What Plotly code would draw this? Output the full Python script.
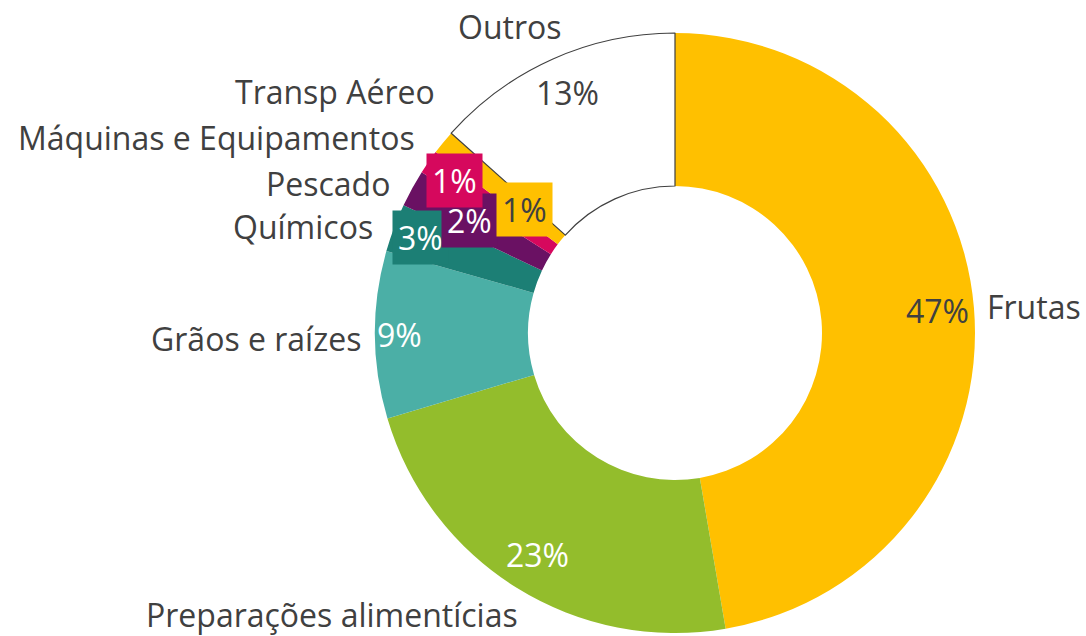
import math
import plotly.graph_objects as go

# ---- data ----
categories = ["Frutas", "Preparações alimentícias", "Grãos e raízes", "Químicos",
              "Pescado", "Máquinas e Equipamentos", "Transp Aéreo", "Outros"]
shares = [47.3, 23.1, 9.0, 2.6, 2.0, 1.3, 1.3, 13.4]

# ---- style ----
colors = ["#FFC000", "#93BD2C", "#4BAFA6", "#1C7F75", "#6A1163", "#D6085D", "#FFC000", "#FFFFFF"]
pct_font_colors = ["#404040", "#FFFFFF", "#FFFFFF", "#FFFFFF", "#FFFFFF", "#FFFFFF", "#404040", "#404040"]
pct_boxed = [False, False, False, True, True, True, True, False]
pct_radius = [0.877, 0.87, 0.917, 0.907, 0.78, 0.893, 0.65, 0.88]   # fraction of outer radius
name_polar = [(85.2, 1.037, "left"), (208.9, 1.07, "right"), (269.0, 1.04, "right"),
              (289.5, 1.06, "right"), (297.9, 1.067, "right"), (307.2, 1.08, "right"),
              (315.4, 1.13, "right"), (331.7, 1.16, "center")]
line_w = [0, 0, 0, 0, 0, 0, 0, 1.2]
line_c = ["#404040" if w else c for w, c in zip(line_w, colors)]

W, H = 1086, 636
CX, CY, R = 675, 333, 300
HOLE = 0.49
FONT = "Open Sans"
FS = 32
TXT = "#404040"


def to_paper(ang_deg, r_px):
    a = math.radians(ang_deg)
    return (CX + r_px * math.sin(a)) / W, 1 - (CY - r_px * math.cos(a)) / H


fig = go.Figure(go.Pie(
    labels=categories, values=shares, sort=False, direction="clockwise", rotation=0,
    hole=HOLE, textinfo="none", hoverinfo="label+percent",
    marker=dict(colors=colors, line=dict(color=line_c, width=line_w)),
    domain=dict(x=[(CX - R) / W, (CX + R) / W], y=[1 - (CY + R) / H, 1 - (CY - R) / H]),
    showlegend=False,
))

total = sum(shares)
cum = 0.0
annotations = []
for i, (cat, v) in enumerate(zip(categories, shares)):
    mid = (cum + v / 2) / total * 360
    cum += v
    x, y = to_paper(mid, pct_radius[i] * R)
    ann = dict(x=x, y=y, xref="paper", yref="paper", showarrow=False,
               text=f"{round(v / total * 100)}%",
               font=dict(family=FONT, size=FS, color=pct_font_colors[i]),
               xanchor="center", yanchor="middle")
    if pct_boxed[i]:
        ann.update(bgcolor=colors[i], borderpad=5)
    annotations.append(ann)
    ang, rr, anchor = name_polar[i]
    nx, ny = to_paper(ang, rr * R)
    annotations.append(dict(x=nx, y=ny, xref="paper", yref="paper", showarrow=False,
                            text=cat, font=dict(family=FONT, size=FS, color=TXT),
                            xanchor=anchor, yanchor="middle"))

fig.update_layout(width=W, height=H, margin=dict(l=0, r=0, t=0, b=0),
                  paper_bgcolor="white", plot_bgcolor="white",
                  annotations=annotations)
fig.write_html("out.html", config={"displayModeBar": False},
               post_script="document.body.style.margin='0';document.body.style.overflow='hidden';")
